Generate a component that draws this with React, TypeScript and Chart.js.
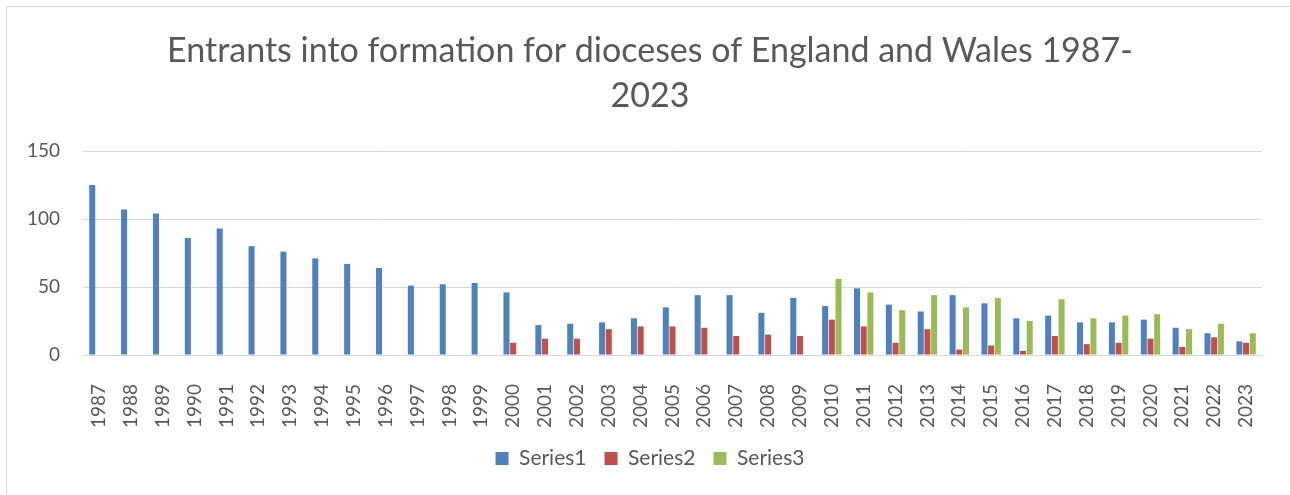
import React, { useEffect, useRef } from "react";
import { Chart, registerables } from "chart.js";

Chart.register(...registerables);

const years: string[] = [
  "1987","1988","1989","1990","1991","1992","1993","1994","1995","1996","1997","1998","1999",
  "2000","2001","2002","2003","2004","2005","2006","2007","2008","2009","2010","2011","2012",
  "2013","2014","2015","2016","2017","2018","2019","2020","2021","2022","2023",
];

const series1: (number | null)[] = [
  125, 107, 104, 86, 93, 80, 76, 71, 67, 64, 51, 52, 53,
  46, 22, 23, 24, 27, 35, 44, 44, 31, 42, 36, 49, 37,
  32, 44, 38, 27, 29, 24, 24, 26, 20, 16, 10,
];

const series2: (number | null)[] = [
  null, null, null, null, null, null, null, null, null, null, null, null, null,
  9, 12, 12, 19, 21, 21, 20, 14, 15, 14, 26, 21, 9,
  19, 4, 7, 3, 14, 8, 9, 12, 6, 13, 9,
];

const series3: (number | null)[] = [
  null, null, null, null, null, null, null, null, null, null, null, null, null,
  null, null, null, null, null, null, null, null, null, null, 56, 46, 33,
  44, 35, 42, 25, 41, 27, 29, 30, 19, 23, 16,
];

const titleLines: string[] = [
  "Entrants into formation for dioceses of England and Wales 1987-",
  "2023",
];

const seriesNames: string[] = ["Series1", "Series2", "Series3"];
const yTicks: number[] = [0, 50, 100, 150];

const FONT = "Lato, 'Open Sans', sans-serif";
const TEXT = "#595959";

export default function App() {
  const ref = useRef<HTMLCanvasElement | null>(null);

  useEffect(() => {
    if (!ref.current) return;
    const chart = new Chart(ref.current, {
      type: "bar",
      data: {
        labels: years,
        datasets: [
          { label: seriesNames[0], data: series1, backgroundColor: "#4F81BD" },
          { label: seriesNames[1], data: series2, backgroundColor: "#C0504D" },
          { label: seriesNames[2], data: series3, backgroundColor: "#9BBB59" },
        ],
      },
      options: {
        responsive: false,
        animation: false,
        datasets: {
          bar: { categoryPercentage: 0.63, barPercentage: 0.9 },
        },
        layout: { padding: { left: 0, right: 0, top: 0, bottom: 28 } },
        plugins: {
          title: {
            display: true,
            text: titleLines,
            color: TEXT,
            font: { family: FONT, size: 34, weight: "normal", lineHeight: "45px" },
            padding: { top: 22, bottom: 32 },
          },
          legend: {
            position: "bottom",
            labels: {
              color: TEXT,
              font: { family: FONT, size: 21 },
              boxWidth: 13,
              boxHeight: 13,
              padding: 18,
            },
          },
          tooltip: { enabled: false },
        },
        scales: {
          x: {
            afterFit: (scale: any) => {
              scale.height = 75;
              scale.paddingLeft = 0;
              scale.paddingRight = 0;
            },
            grid: { display: false, drawTicks: false },
            border: { display: true, color: "#d9d9d9", width: 1 },
            ticks: {
              color: TEXT,
              font: { family: FONT, size: 19 },
              minRotation: 90,
              maxRotation: 90,
              autoSkip: false,
              padding: 29,
            },
          },
          y: {
            min: 0,
            max: 150,
            afterBuildTicks: (scale: any) => {
              scale.ticks = yTicks.map((v) => ({ value: v }));
            },
            afterFit: (scale: any) => {
              scale.width = 76;
            },
            grid: { color: "#d9d9d9", lineWidth: 1, drawTicks: false },
            border: { display: false },
            ticks: {
              color: TEXT,
              font: { family: FONT, size: 19 },
              padding: 23,
            },
          },
          yRight: {
            type: "linear",
            position: "right",
            min: 0,
            max: 150,
            afterFit: (scale: any) => {
              scale.width = 31;
            },
            grid: { display: false, drawTicks: false },
            border: { display: false },
            ticks: { display: false },
          },
        },
      },
    });
    return () => chart.destroy();
  }, []);

  return (
    <div
      style={{
        position: "fixed",
        left: 6,
        top: 6,
        width: 1288,
        height: 502,
        border: "1px solid #d9d9d9",
        boxSizing: "border-box",
        background: "#fff",
      }}
    >
      <canvas ref={ref} width={1286} height={500} style={{ display: "block" }} />
    </div>
  );
}
